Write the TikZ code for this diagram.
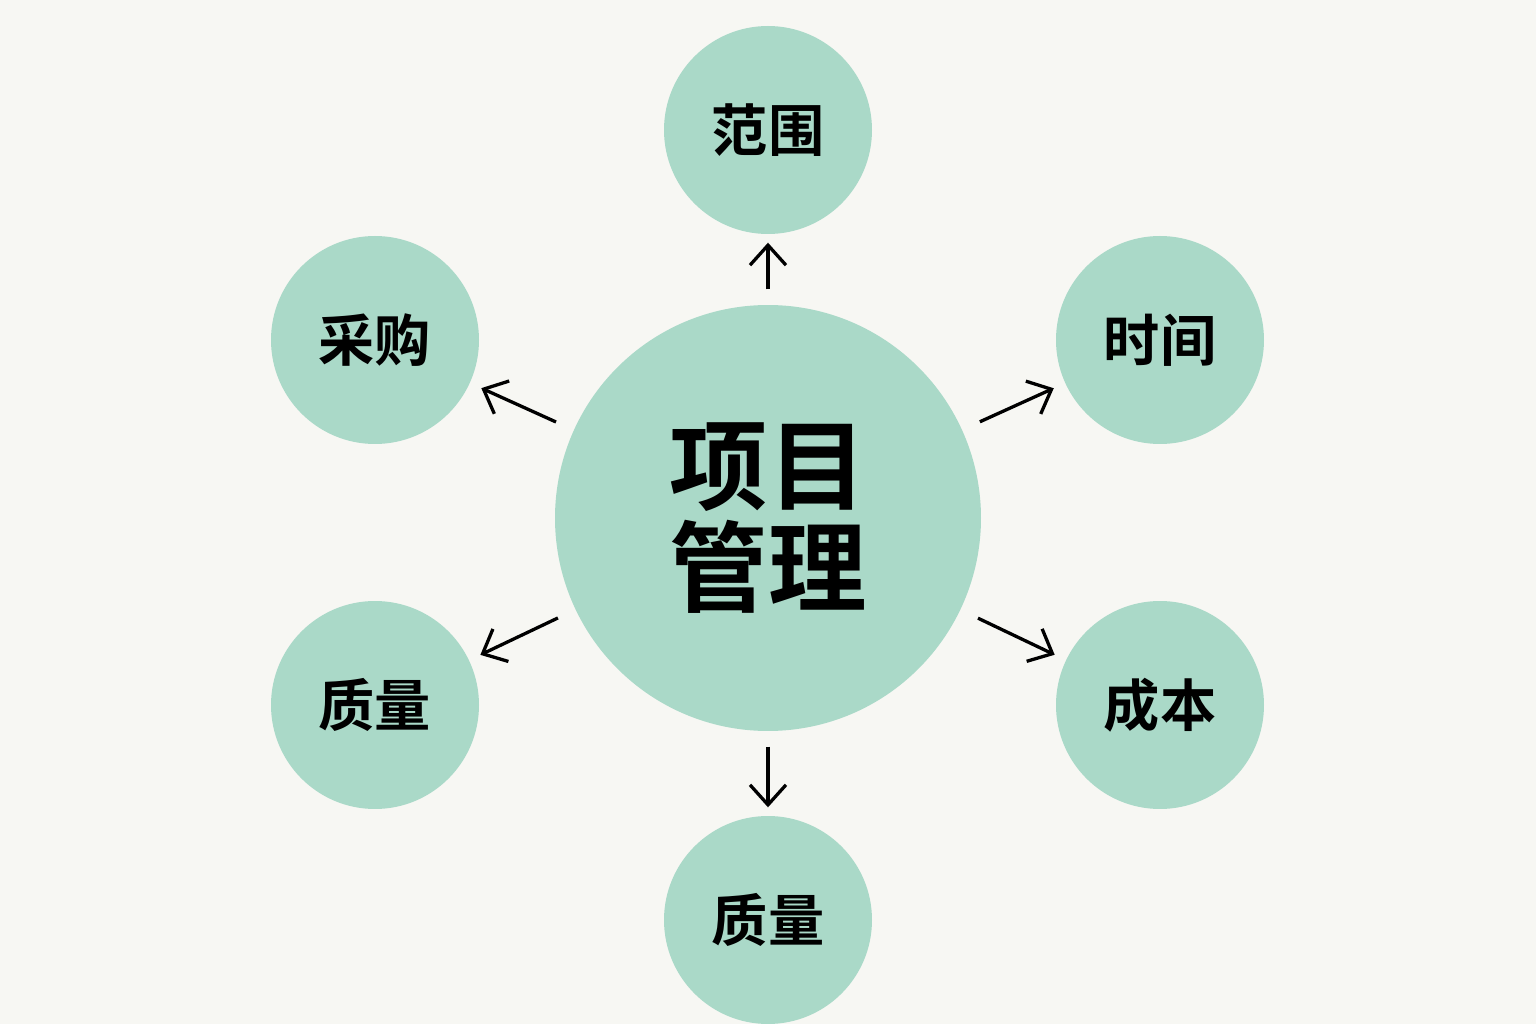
\documentclass[tikz,border=0pt]{standalone}
\usepackage{fontspec}
\newfontfamily\cjk{Noto Sans CJK SC Bold}
\usetikzlibrary{arrows.meta}
\definecolor{bgcol}{HTML}{F7F7F3}
\definecolor{mint}{HTML}{AAD9C8}
\tikzset{
  topic/.style={circle, fill=mint, minimum size=20.8mm, inner sep=0pt, font=\cjk\fontsize{16}{18}\selectfont},
  link/.style={line width=0.33mm, -{Straight Barb[length=2mm,width=3.6mm]}, shorten <=1.5mm, shorten >=0.8mm}
}

\begin{document}
\begin{tikzpicture}[x=0.1mm, y=-0.1mm]
      \fill[bgcol] (0, 0) rectangle (1536, 1024);
      \useasboundingbox (0, 0) rectangle (1536, 1024);

      \node[circle, fill=mint, minimum size=42.6mm, inner sep=0pt, align=center,
            font=\cjk\fontsize{28}{29}\selectfont] (pm) at (768, 518) {项目\\管理};

      \node[topic] (scope) at (768, 130) {范围};
      \node[topic] (time) at (1160, 340) {时间};
      \node[topic] (cost) at (1160, 705) {成本};
      \node[topic] (qualb) at (768, 920) {质量};
      \node[topic] (qual) at (375, 705) {质量};
      \node[topic] (buy) at (375, 340) {采购};

      \draw[link] (pm) -- (scope);
      \draw[link] (pm) -- (qualb);
      \draw[link, shorten <=1.9mm, shorten >=1.2mm] (pm) -- (time);
      \draw[link, shorten <=1.9mm, shorten >=1.2mm] (pm) -- (cost);
      \draw[link, shorten <=1.9mm, shorten >=1.2mm] (pm) -- (qual);
      \draw[link, shorten <=1.9mm, shorten >=1.2mm] (pm) -- (buy);
    \end{tikzpicture}
\end{document}
